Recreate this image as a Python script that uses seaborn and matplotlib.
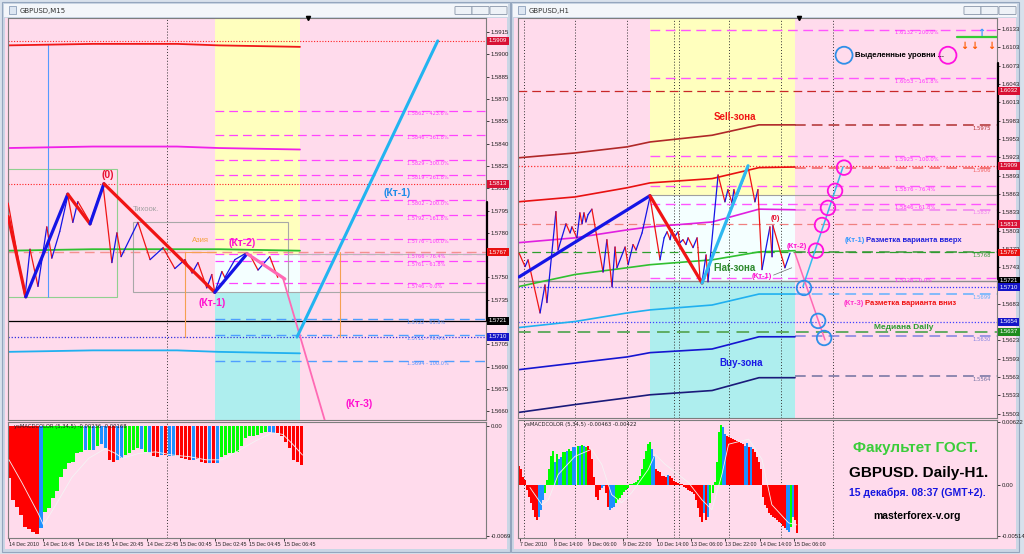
import matplotlib
matplotlib.use("Agg")
import matplotlib.pyplot as plt
import matplotlib.transforms as mtransforms
from matplotlib.patches import Rectangle, FancyBboxPatch
import numpy as np
import seaborn as sns

sns.set_theme(style="white")
plt.rcParams['font.family'] = ['Liberation Sans', 'DejaVu Sans']

PINK = '#FFDBEC'
YELLOW = '#FFFFBE'
CYAN = '#AEEEEE'
WHITE = '#F4FFFF'
RED = '#F01414'
BLUE = '#1414E6'

# ---------------- GBPUSD M15 (left window) ----------------
m15_price_x = [-0.2, 3.8, 5.0, 6.9, 9.0, 10.2, 12.1, 14.0, 15.2, 16.4, 19.3, 22.4, 24.5, 25.7, 26.7,
               30.7, 33.6, 36.7, 39.5, 41.9, 43.6, 45.0, 47.1, 48.3, 49.0, 50.7, 51.4, 53.8, 56.2,
               57.4, 59.3, 62.1, 64.0]
m15_price_y = [1.5800, 1.5737, 1.5769, 1.5744, 1.5784, 1.5763, 1.5781, 1.5805, 1.5787, 1.5801, 1.5787,
               1.5812, 1.5760, 1.5780, 1.5764, 1.5787, 1.5762, 1.5770, 1.5756, 1.5762, 1.5753, 1.5760,
               1.5743, 1.5752, 1.5740, 1.5754, 1.5750, 1.5762, 1.5766, 1.5765, 1.5755, 1.5764, 1.5750]
m15_zz_x = [-0.2, 4.0, 14.0, 19.3, 22.6, 49.0, 56.7]
m15_zz_y = [1.5791, 1.5737, 1.5806, 1.5786, 1.5813, 1.5740, 1.5766]
m15_kt2_x, m15_kt2_y = [56.7, 65.7], [1.5766, 1.5749]
m15_kt3_x, m15_kt3_y = [65.2, 75.2], [1.5750, 1.5654]
m15_kt1_x, m15_kt1_y = [68.6, 102.1], [1.5710, 1.5909]

m15_ma_x = [-0.2, 20, 40, 50, 69.3]
m15_ma_red = [1.5906, 1.5907, 1.5907, 1.5906, 1.5905]
m15_ma_mag = [1.5837, 1.5838, 1.5838, 1.5837, 1.5836]
m15_ma_green = [1.5768, 1.5769, 1.5769, 1.5769, 1.5768]
m15_ma_cyan = [1.5700, 1.5701, 1.5701, 1.5700, 1.5699]

m15_fib_up = [1.5862, 1.5846, 1.5829, 1.5819, 1.5802, 1.5792, 1.5776, 1.5766, 1.5761, 1.5746]
m15_fib_up_pct = ["423.6%", "361.8%", "300.0%", "261.8%", "200.0%", "161.8%", "100.0%", "76.4%", "61.8%", "0.0%"]
m15_fib_dn = [1.5722, 1.5711, 1.5694]
m15_fib_dn_pct = ["61.8%", "76.4%", "100.0%"]

m15_ticks = [1.5915, 1.5900, 1.5885, 1.5870, 1.5855, 1.5840, 1.5825, 1.5810, 1.5795, 1.5780,
             1.5750, 1.5735, 1.5705, 1.5690, 1.5675, 1.5660]
m15_tags = [(1.5909, '#D81034'), (1.5813, '#D81034'), (1.5767, '#E81010'), (1.5721, 'black'), (1.5710, '#1414C8')]
m15_date_pos = [0, 8.1, 16.4, 24.5, 32.9, 40.7, 49.0, 57.1, 65.5]
m15_date_lab = ["14 Dec 2010", "14 Dec 16:45", "14 Dec 18:45", "14 Dec 20:45", "14 Dec 22:45",
                "15 Dec 00:45", "15 Dec 02:45", "15 Dec 04:45", "15 Dec 06:45"]

m15_macd = [-32.6, -46.3, -50.5, -55.8, -63.1, -64.8, -66.3, -67.7, -64.2, -53.7, -51.5, -45.2, -40.4,
            -31.6, -26.9, -22.7, -22.1, -16.8, -15.8, -15.1, -14.7, -14.7, -12.6, -10.9, -13.7, -21.0,
            -22.1, -21.0, -20.0, -17.9, -16.8, -14.7, -13.7, -14.3, -15.8, -16.8, -18.5, -19.4, -17.9,
            -17.9, -18.5, -18.5, -18.9, -20.0, -20.6, -21.0, -21.0, -20.6, -22.1, -22.7, -22.7, -22.7,
            -22.7, -19.4, -17.9, -16.8, -16.8, -15.8, -12.6, -7.4, -6.3, -5.9, -5.3, -4.2, -3.2, -3.2,
            -4.2, -4.2, -6.3, -9.5, -13.7, -21.0, -22.1, -24.2]
m15_macd_col = ("rrrrrrrr" + "b" + "gggggggggg" + "b" + "g" + "b" + "g" + "bb" + "rr" + "bb" + "gggg" + "b"
                + "g" + "b" + "rr" + "b" + "r" + "bb" + "rrrr" + "b" + "rrr" + "b" + "r" + "b"
                + "gggggggggggg" + "bb" + "rrrrrrr")
m15_sig_x = [0, 3.0, 7.0, 8.2, 11.0, 15.0, 19.0, 22.9, 25.4, 27.0, 30.9, 34.9, 38.9, 42.9, 46.9, 50.8,
             54.8, 58.8, 62.8, 65.2, 67.5, 69.9]
m15_sig_y = [-21, -35, -55, -62, -50, -32, -20, -14, -17, -20, -17, -16, -18, -19, -21, -21, -15, -9,
             -4, -5, -11, -18]

# ---------------- GBPUSD H1 (right window) ----------------
h1_price_x = [-2.3, 0.5, 1.9, 7.5, 9.8, 10.7, 14.9, 15.9, 19.6, 21.5, 22.4, 24.7, 26.1, 27.1, 28.0, 28.9,
              29.9, 31.7, 36.9, 38.7, 41.1, 42.5, 43.4, 47.2, 48.6, 50.9, 52.3, 55.1, 58.8, 63.5, 65.4,
              66.8, 68.2, 69.1, 70.0, 71.9, 72.8, 74.2, 75.6, 76.6, 78.9, 80.8, 81.2, 82.2, 83.1, 85.0,
              85.9, 90.6, 93.8, 95.2, 97.1, 98.0, 99.0, 104.6, 107.8, 109.2, 111.1, 114.8, 115.8, 116.2,
              121.8, 124.2]
h1_price_y = [1.5766, 1.5744, 1.5755, 1.5668, 1.5714, 1.5685, 1.5834, 1.5771, 1.5814, 1.5799, 1.5809,
              1.5791, 1.5832, 1.5814, 1.5832, 1.5817, 1.5829, 1.5838, 1.5735, 1.5788, 1.5711, 1.5776,
              1.5742, 1.5776, 1.5747, 1.5780, 1.5771, 1.5799, 1.5858, 1.5755, 1.5791, 1.5801, 1.5788,
              1.5804, 1.5791, 1.5801, 1.5783, 1.5788, 1.5780, 1.5791, 1.5775, 1.5791, 1.5775, 1.5722,
              1.5719, 1.5763, 1.5719, 1.5894, 1.5850, 1.5870, 1.5848, 1.5870, 1.5856, 1.5907, 1.5850,
              1.5870, 1.5739, 1.5809, 1.5760, 1.5811, 1.5742, 1.5766]
h1_zz_x = [-2.3, 58.8, 83.1, 104.6]
h1_zz_y = [1.5727, 1.5860, 1.5717, 1.5909]
h1_zz_col = [BLUE, RED, '#2EB8F0']
h1_up_x, h1_up_y = [130.2, 148.9], [1.5711, 1.5907]
h1_dn_x, h1_dn_y = [126.5, 140.5], [1.5766, 1.5624]

h1_ma_x = [-2.8, 23.8, 48.1, 58.8, 87.8, 109.7, 126.5]
h1_ma = {
    '#B02828': [1.5922, 1.5930, 1.5940, 1.5948, 1.5959, 1.5976, 1.5976],
    '#E81010': [1.5850, 1.5858, 1.5873, 1.5881, 1.5888, 1.5906, 1.5907],
    '#E020E0': [1.5783, 1.5791, 1.5804, 1.5809, 1.5817, 1.5838, 1.5837],
    '#30C030': [1.5711, 1.5731, 1.5742, 1.5747, 1.5755, 1.5768, 1.5770],
    '#20B0F0': [1.5644, 1.5654, 1.5668, 1.5673, 1.5681, 1.5699, 1.5699],
    '#1515D0': [1.5575, 1.5586, 1.5596, 1.5603, 1.5609, 1.5629, 1.5629],
    '#1A1A7A': [1.5505, 1.5518, 1.5529, 1.5534, 1.5541, 1.5562, 1.5562],
}
h1_fib = [1.6132, 1.6053, 1.5925, 1.5876, 1.5846, 1.5726]
h1_fib_pct = ["200.0%", "161.8%", "100.0%", "76.4%", "61.8%", "0.0%"]
h1_levels_full = [(1.6032, '#C82828', 'dash'), (1.5909, '#FF3030', 'dot'), (1.5813, '#F08080', 'dash'),
                  (1.5768, '#2E9E2E', 'dash'), (1.5710, '#3030FF', 'dot'), (1.5654, '#4040FF', 'dot'),
                  (1.5637, '#58A858', 'dash')]
h1_levels_part = [(1.5975, '#B03030'), (1.5906, '#F06060'), (1.5837, '#F080F0'), (1.5768, '#339933'),
                  (1.5699, '#60B0FF'), (1.5630, '#8080E0'), (1.5564, '#7070A0')]
h1_mag_circ_x = [149.4, 145.2, 141.9, 139.1, 136.3]
h1_mag_circ_y = [1.5906, 1.5868, 1.5840, 1.5812, 1.5770]
h1_blue_circ_x = [130.7, 137.3, 140.1]
h1_blue_circ_y = [1.5709, 1.5655, 1.5627]
h1_day_lines = [0, 23.8, 48.1, 70.0, 72.4, 95.7, 120.0, 144.3]

h1_ticks = [1.6133, 1.6103, 1.6073, 1.6043, 1.6013, 1.5983, 1.5953, 1.5923, 1.5893, 1.5863, 1.5833,
            1.5803, 1.5773, 1.5743, 1.5683, 1.5623, 1.5593, 1.5563, 1.5533, 1.5503]
h1_tags = [(1.6032, '#D81034'), (1.5909, '#D81034'), (1.5813, '#D81034'), (1.5767, '#E81010'),
           (1.5721, 'black'), (1.5710, '#1414C8'), (1.5654, '#1414C8'), (1.5637, '#1E8C1E')]
h1_date_pos = [-2, 14, 30, 46, 62, 78, 94, 110, 126]
h1_date_lab = ["7 Dec 2010", "8 Dec 14:00", "9 Dec 06:00", "9 Dec 22:00", "10 Dec 14:00",
               "13 Dec 06:00", "13 Dec 22:00", "14 Dec 14:00", "15 Dec 06:00"]

h1_macd = [18, 15, 7, 5,
           -5, -12, -18, -25, -32, -35, -32, -25, -15, -8,
           5, 15, 28, 33, 22, 30, 25, 27, 32, 32, 33, 35, 33, 37, 37, 38, 38, 39, 38, 37, 38, 35, 25, 7,
           -12, -15, -5, -3, -1, -8, -22, -25, -23, -22, -18, -15, -13, -10, -7, -5, -3,
           1, 1, 2, 3, 5, 8, 15, 25, 33, 40, 42, 35, 28, 15, 13, 12, 8, 8, 7, 9, 8, 6, 4, 3, 2, 1, 0.5,
           -2, -3, -5, -6, -7, -9, -15, -23, -32, -37, -28, -35, -32, -18, -8,
           3, 22, 52, 59, 57, 50, 48, 47, 46, 45, 44, 43, 42, 41, 40, 38, 41, 37, 37, 35, 32, 27, 22, 15,
           -12, -20, -23, -28, -30, -32, -33, -35, -37, -38, -41, -43, -45, -47, -42, -32, -35, -48]
h1_macd_col = ("rrrr" + "rrrrrrbbbg" + "ggggbgbbggbggbbgbgbgrrrr" + "rrrbbrrbbbggggggg"
               + "gggggggggggbbrrrrrrbrrrrrrr" + "rrrrrrrrrrbrbgg" + "ggggbbrrrrrrrrrbbrbrrrrr"
               + "rrrrrrrrrrrrbbgbrr")
h1_sig_x = [2.8, 8.3, 11.4, 16.0, 23.8, 31.6, 36.3, 40.9, 45.6, 50.3, 58.0, 61.2, 65.9, 76.8, 83.0, 87.7,
            92.4, 95.5, 104.9, 111.1, 115.7, 123.5, 127.4]
h1_sig_y = [-3, -20, -15, 10, 28, 35, 20, -10, -18, -8, 15, 30, 20, 2, -15, -25, 10, 40, 45, 25, -20, -38, -40]

BAR_COL = {'r': '#FF0000', 'g': '#00FF00', 'b': '#1E90FF'}

W, H = 1024, 554
fig = plt.figure(figsize=(10.24, 5.54), dpi=100)
fig.patch.set_facecolor('#D8E1EC')


def frect(x0, y0, x1, y1, **kw):
    fig.patches.append(Rectangle((x0 / W, 1 - y1 / H), (x1 - x0) / W, (y1 - y0) / H,
                                 transform=fig.transFigure, zorder=-10, **kw))


def fbtn(x0, y0, x1, y1):
    fig.patches.append(FancyBboxPatch((x0 / W, 1 - y1 / H), (x1 - x0) / W, (y1 - y0) / H,
                                      boxstyle='round,pad=0.001', transform=fig.transFigure,
                                      fc='#EEF2F7', ec='#8895A8', lw=0.6, zorder=-9))


# window chrome
for off, title in [(0, "GBPUSD,M15"), (509, "GBPUSD,H1")]:
    frect(2 + off, 2, 510 + off, 552, fc='#CAD6E5', ec='#94A6BE', lw=0.8)
    frect(4 + off, 4, 508 + off, 17, fc='#F3F6FA', ec='none')
    frect(5 + off, 18, 507 + off, 549, fc=PINK, ec='none')
    fig.text((20 + off) / W, 1 - 10.5 / H, title, fontsize=5, color='#333333', va='center',
             family='DejaVu Sans')
    frect(9 + off, 6, 16 + off, 14, fc='#DDE6F2', ec='#7A90B0', lw=0.5)
    for bx in (456, 473, 491):
        fbtn(bx + off, 7, bx + 15 + off, 14)

axL = fig.add_axes([8 / W, 1 - 420 / H, 478 / W, 402 / H])
axLm = fig.add_axes([8 / W, 1 - 538 / H, 478 / W, 116 / H])
axR = fig.add_axes([518 / W, 1 - 418 / H, 479 / W, 400 / H])
axRm = fig.add_axes([518 / W, 1 - 538 / H, 479 / W, 118 / H])

L_XLIM = (-0.24, 113.6)
R_XLIM = (-2.8, 220.8)
L_YLIM = (1.56542, 1.59244)
R_YLIM = (1.5496, 1.6151)


def style_axis(ax, xlim, ylim):
    ax.set_facecolor(PINK)
    ax.set_xlim(*xlim)
    ax.set_ylim(*ylim)
    ax.yaxis.tick_right()
    ax.tick_params(axis='y', labelsize=4.3, length=2, width=0.6, colors='#222222', pad=1.5, right=True,
                   left=False)
    for s in ax.spines.values():
        s.set_color('#7D7D7D')
        s.set_linewidth(0.8)


def price_ticks(ax, ticks):
    ax.set_yticks(ticks)
    ax.set_yticklabels([f"{t:.4f}" for t in ticks])
    ax.set_xticks([])


def tag(ax, y, txt, fc):
    tr = mtransforms.blended_transform_factory(ax.transAxes, ax.transData)
    ax.text(1.006, y, txt, transform=tr, fontsize=4.3, color='white', va='center', ha='left',
            clip_on=False, zorder=10,
            bbox=dict(boxstyle='square,pad=0.25', fc=fc, ec='none'))


def hline(ax, y, x0, x1, color, kind='solid', lw=0.9, z=1.5):
    if kind == 'dash':
        ax.plot([x0, x1], [y, y], color=color, lw=lw, dashes=(7, 4), zorder=z)
    elif kind == 'dot':
        ax.plot([x0, x1], [y, y], color=color, lw=lw, dashes=(1, 1.5), zorder=z)
    else:
        ax.plot([x0, x1], [y, y], color=color, lw=lw, zorder=z)


def zigzag(ax, xs, ys, lw, z=3):
    for k in range(len(xs) - 1):
        c = BLUE if ys[k + 1] >= ys[k] else RED
        ax.plot(xs[k:k + 2], ys[k:k + 2], color=c, lw=lw, zorder=z, solid_capstyle='round')


def date_ticks(ax, pos, lab):
    ax.set_xticks(pos)
    ax.set_xticklabels(lab, ha='left')
    ax.tick_params(axis='x', labelsize=3.8, length=2, width=0.6, colors='#222222', pad=1, bottom=True)


# ======================= LEFT: M15 =======================
style_axis(axL, L_XLIM, L_YLIM)
price_ticks(axL, m15_ticks)
x0, x1 = 49.0, 69.3
axL.fill_between([x0, x1], 1.5765, L_YLIM[1], color=YELLOW, lw=0, zorder=0.5)
axL.fill_between([x0, x1], 1.5740, 1.5765, color=WHITE, lw=0, zorder=0.5)
axL.fill_between([x0, x1], L_YLIM[0], 1.5740, color=CYAN, lw=0, zorder=0.5)

for ma, c in [(m15_ma_red, '#F01818'), (m15_ma_mag, '#F020E8'), (m15_ma_green, '#30C030'),
              (m15_ma_cyan, '#20B0F0')]:
    sns.lineplot(x=m15_ma_x, y=ma, ax=axL, color=c, lw=1.3, zorder=2)

hline(axL, 1.5909, *L_XLIM, '#FF2020', 'dot', 0.8)
hline(axL, 1.5813, *L_XLIM, '#FF2020', 'dot', 0.8)
hline(axL, 1.5767, *L_XLIM, '#F59090', 'dash', 1.0)
hline(axL, 1.5721, *L_XLIM, 'black', 'solid', 0.9)
hline(axL, 1.5710, *L_XLIM, '#3030E0', 'dot', 0.9)
for lv, pc in zip(m15_fib_up, m15_fib_up_pct):
    hline(axL, lv, x0, L_XLIM[1], '#FF44FF', 'dash', 0.9)
    axL.text(94.8, lv - 0.00004, f"{lv:.4f} - {pc}", fontsize=3.6, color='#FF33FF', va='top', zorder=4,
             family='DejaVu Sans')
for lv, pc in zip(m15_fib_dn, m15_fib_dn_pct):
    hline(axL, lv, x0, L_XLIM[1], '#4F9FFF', 'dash', 1.0)
    axL.text(94.8, lv - 0.00004, f"{lv:.4f} - {pc}", fontsize=3.6, color='#4F8FFF', va='top', zorder=4,
             family='DejaVu Sans')

# session boxes
axL.add_patch(Rectangle((-0.24, 1.5737), 25.9, 1.5823 - 1.5737, fill=False, ec='#90D090', lw=0.8, zorder=1.6))
axL.plot([9.3, 9.3], [1.5737, 1.5907], color='#5599FF', lw=0.8, zorder=1.6)
axL.add_patch(Rectangle((29.5, 1.5740), 36.9, 1.5787 - 1.5740, fill=False, ec='#A8A8A8', lw=0.8, zorder=1.6))
axL.plot([66.4, L_XLIM[1]], [1.5740, 1.5740], color='#A8A8A8', lw=0.8, zorder=1.6)
axL.plot([66.4, L_XLIM[1]], [1.5766, 1.5766], color='#B8B8B8', lw=0.8, zorder=1.6)
for xv in (41.9, 78.8):
    axL.plot([xv, xv], [1.5710, 1.5767], color='#F5A050', lw=0.8, zorder=1.6)
axL.plot([41.9, 49.0], [1.5767, 1.5767], color='#F5A050', lw=0.8, zorder=1.6)
axL.text(43.6, 1.5774, "Азия", fontsize=5.5, color='#F5A040', zorder=4)
axL.text(29.5, 1.5795, "Тихоок.", fontsize=5.5, color='#A0A0A0', zorder=4)

zigzag(axL, m15_price_x, m15_price_y, 0.9)
zigzag(axL, m15_zz_x, m15_zz_y, 2.3, z=3.5)
axL.plot(m15_kt2_x, m15_kt2_y, color='#FF69B4', lw=2.3, zorder=3.5)
axL.plot(m15_kt3_x, m15_kt3_y, color='#FF69B4', lw=1.3, zorder=3.5)
axL.plot(m15_kt1_x, m15_kt1_y, color='#22B4F0', lw=2.2, zorder=3.5)

axL.axvline(37.6, color='#333333', lw=0.7, dashes=(1, 2), zorder=1.4)
axLm.axvline(37.6, color='#333333', lw=0.7, dashes=(1, 2), zorder=1.4)
axL.plot(71.2, L_YLIM[1], marker='v', color='black', ms=3, clip_on=False, zorder=6)

lab = dict(fontweight='bold', ha='center', va='center', zorder=5)
axL.text(23.6, 1.5819, "(0)", color='#E81030', fontsize=7.5, **lab)
axL.text(55.5, 1.5773, "(Кт-2)", color='#FF10D0', fontsize=7.5, **lab)
axL.text(48.3, 1.5733, "(Кт-1)", color='#FF10D0', fontsize=7.5, **lab)
axL.text(92.4, 1.5807, "(Кт-1)", color='#1E8CE8', fontsize=7.5, **lab)
axL.text(83.3, 1.5665, "(Кт-3)", color='#FF10D0', fontsize=7.5, **lab)

trL = mtransforms.blended_transform_factory(axL.transAxes, axL.transData)
axL.plot([1.003, 1.003], [1.5801, 1.5721], color='black', lw=1.6, transform=trL, clip_on=False, zorder=6)
for y, c in m15_tags:
    tag(axL, y, f"{y:.4f}", c)

# MACD M15
style_axis(axLm, L_XLIM, (-0.00702, 0.00028))
bx = np.linspace(0.0, 69.7, len(m15_macd))
axLm.bar(bx, np.array(m15_macd) * 1e-4, width=0.8, color=[BAR_COL[c] for c in m15_macd_col], lw=0, zorder=2)
sns.lineplot(x=m15_sig_x, y=np.array(m15_sig_y) * 1e-4, ax=axLm, color='#F4F4F4', lw=0.6, zorder=3)
axLm.set_yticks([0.0, -0.0069])
axLm.set_yticklabels(["0.00", "-0.0069"])
date_ticks(axLm, m15_date_pos, m15_date_lab)
axLm.text(0.012, 0.985, "ysMACDCOLOR (5,34,5) -0.00236 -0.00168", transform=axLm.transAxes, fontsize=3.8,
          va='top', color='#222222', family='DejaVu Sans', zorder=5)

# ======================= RIGHT: H1 =======================
style_axis(axR, R_XLIM, R_YLIM)
price_ticks(axR, h1_ticks)
x0, x1 = 58.8, 126.5
axR.fill_between([x0, x1], 1.5861, R_YLIM[1], color=YELLOW, lw=0, zorder=0.5)
axR.fill_between([x0, x1], 1.5721, 1.5861, color=WHITE, lw=0, zorder=0.5)
axR.fill_between([x0, x1], R_YLIM[0], 1.5721, color=CYAN, lw=0, zorder=0.5)

for c, ma in h1_ma.items():
    sns.lineplot(x=h1_ma_x, y=ma, ax=axR, color=c, lw=1.2, zorder=2)

for y, c, kind in h1_levels_full:
    hline(axR, y, *R_XLIM, c, kind, 1.3 if y == 1.5637 else 0.9)
hline(axR, 1.5721, *R_XLIM, '#8C8C8C', 'solid', 1.0)
hline(axR, 1.5861, x0, R_XLIM[1], '#A0A0A0', 'solid', 0.8)
for y, c in h1_levels_part:
    hline(axR, y, x1, R_XLIM[1], c, 'dash', 1.1)
    axR.text(213.8, y - 0.00012, f"{y:.4f}", fontsize=3.8, color=c, ha='center', va='top', zorder=4,
             family='DejaVu Sans')
for lv, pc in zip(h1_fib, h1_fib_pct):
    hline(axR, lv, x0, R_XLIM[1], '#FF55FF', 'dash', 1.0)
    axR.text(173.2, lv - 0.00012, f"{lv:.4f} - {pc}", fontsize=3.8, color='#FF33FF', va='top', zorder=4,
             family='DejaVu Sans')

for xv in h1_day_lines:
    axR.axvline(xv, color='#333333', lw=0.7, dashes=(1, 2), zorder=1.4)
    axRm.axvline(xv, color='#333333', lw=0.7, dashes=(1, 2), zorder=1.4)

zigzag(axR, h1_price_x, h1_price_y, 0.9)
for k, c in enumerate(h1_zz_col):
    axR.plot(h1_zz_x[k:k + 2], h1_zz_y[k:k + 2], color=c, lw=2.3, zorder=3.5, solid_capstyle='round')
axR.plot(h1_up_x, h1_up_y, color='#33BBEE', lw=1.1, zorder=3.5)
axR.plot(h1_dn_x, h1_dn_y, color='#FF69B4', lw=1.1, zorder=3.5)
axR.scatter(h1_mag_circ_x, h1_mag_circ_y, s=110, facecolors='none', edgecolors='#FF10E0', linewidths=1.3, zorder=4)
axR.scatter(h1_blue_circ_x, h1_blue_circ_y, s=110, facecolors='none', edgecolors='#2F8FE8', linewidths=1.3, zorder=4)
axR.scatter([149.4], [1.6090], s=150, facecolors='none', edgecolors='#2F8FE8', linewidths=1.3, zorder=4)
axR.scatter([197.9], [1.6090], s=150, facecolors='none', edgecolors='#FF10E0', linewidths=1.3, zorder=4)
axR.text(154.5, 1.6090, "Выделенные уровни ...", fontsize=5.6, fontweight='bold', color='black', va='center', zorder=5)

axR.plot([202.1, 220.8], [1.6120, 1.6120], color='#33CC33', lw=1.6, zorder=4)
axR.text(213.4, 1.6126, "↑", fontsize=7, fontweight='bold', color='#3399FF', ha='center', va='center',
         family='DejaVu Sans', zorder=5)
for xa in (205.5, 210.0, 218.3):
    axR.text(xa, 1.6106, "↓", fontsize=7, fontweight='bold', color='#FF5A00', ha='center', va='center',
             family='DejaVu Sans', zorder=5)
axR.plot(128.4, R_YLIM[1], marker='v', color='black', ms=3, clip_on=False, zorder=6)

axR.text(98.5, 1.5989, "Sell-зона", color='#F01414', fontsize=7, **lab)
axR.text(88.2, 1.5742, "Flat-зона", color='#2E8B2E', fontsize=7, fontweight='bold', ha='left', va='center', zorder=5)
axR.text(101.3, 1.5586, "Buy-зона", color='#1A1AE6', fontsize=7, **lab)
axR.text(117.2, 1.5822, "(0)", color='#E81030', fontsize=5.5, **lab)
axR.text(127.5, 1.5777, "(Кт-2)", color='#FF10D0', fontsize=5.5, **lab)
axR.text(111.1, 1.5727, "(Кт-1)", color='#FF10D0', fontsize=5.5, **lab)
axR.plot([116.5, 125.0], [1.5730, 1.5742], color='#707070', lw=0.5, zorder=4)
axR.text(149.9, 1.5786, "(Кт-1)", color='#3399FF', fontsize=5.5, fontweight='bold', va='center', zorder=5)
axR.text(159.6, 1.5786, "Разметка варианта вверх", color='#2222DD', fontsize=5.5, fontweight='bold', va='center', zorder=5)
axR.text(149.4, 1.5683, "(Кт-3)", color='#FF33CC', fontsize=5.5, fontweight='bold', va='center', zorder=5)
axR.text(159.0, 1.5683, "Разметка варианта вниз", color='#F01414', fontsize=5.5, fontweight='bold', va='center', zorder=5)
axR.text(177.4, 1.5645, "Медиана Daily", color='#2E9E2E', fontsize=6, **lab)

trR = mtransforms.blended_transform_factory(axR.transAxes, axR.transData)
axR.plot([1.003, 1.003], [1.6077, 1.5724], color='black', lw=1.6, transform=trR, clip_on=False, zorder=6)
for y, c in h1_tags:
    tag(axR, y, f"{y:.4f}", c)

# MACD H1
style_axis(axRm, R_XLIM, (-0.0053, 0.0064))
bx = np.linspace(-2.3, 127.5, len(h1_macd))
axRm.bar(bx, np.array(h1_macd) * 1e-4, width=0.93, color=[BAR_COL[c] for c in h1_macd_col], lw=0, zorder=2)
sns.lineplot(x=h1_sig_x, y=np.array(h1_sig_y) * 1e-4, ax=axRm, color='#F4F4F4', lw=0.6, zorder=3)
axRm.set_yticks([0.00622, 0.0, -0.00514])
axRm.set_yticklabels(["0.00622", "0.00", "-0.00514"])
date_ticks(axRm, h1_date_pos, h1_date_lab)
axRm.text(0.012, 0.985, "ysMACDCOLOR (5,34,5) -0.00463 -0.00422", transform=axRm.transAxes, fontsize=3.8,
          va='top', color='#222222', family='DejaVu Sans', zorder=5)

fig.text(916 / W, 1 - 448 / H, "Факультет ГОСТ.", color='#3ACD3A', fontsize=11, fontweight='bold',
         ha='center', va='center')
fig.text(919 / W, 1 - 473 / H, "GBPUSD. Daily-H1.", color='black', fontsize=11, fontweight='bold',
         ha='center', va='center')
fig.text(917 / W, 1 - 493 / H, "15 декабря. 08:37 (GMT+2).", color='#1515E0', fontsize=7.5,
         fontweight='bold', ha='center', va='center')
fig.text(917 / W, 1 - 516 / H, "masterforex-v.org", color='black', fontsize=7.5, fontweight='bold',
         ha='center', va='center')

fig.savefig("out.png", dpi=100, facecolor=fig.get_facecolor())
